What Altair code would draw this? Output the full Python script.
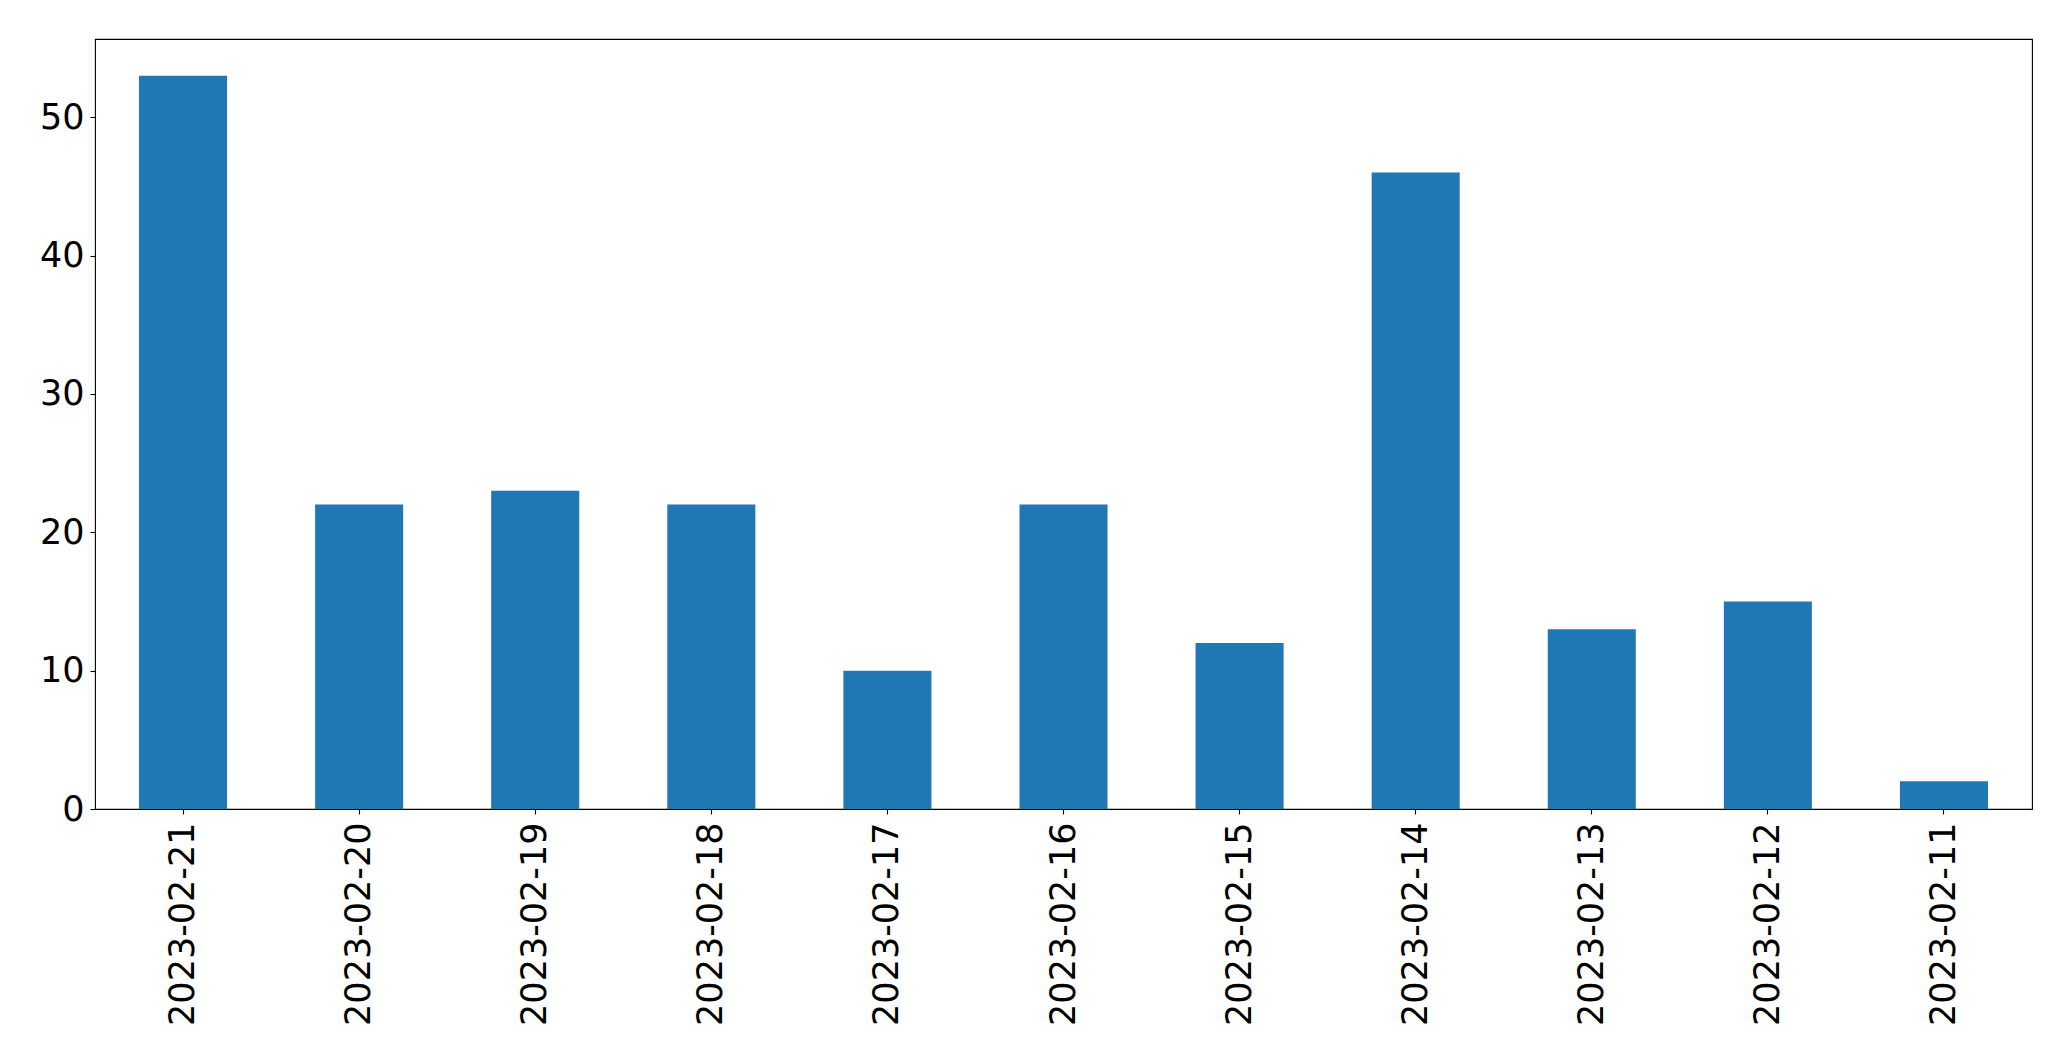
import altair as alt
import pandas as pd

dates = ["2023-02-21", "2023-02-20", "2023-02-19", "2023-02-18", "2023-02-17",
         "2023-02-16", "2023-02-15", "2023-02-14", "2023-02-13", "2023-02-12",
         "2023-02-11"]
counts = [53, 22, 23, 22, 10, 22, 12, 46, 13, 15, 2]
y_ticks = [0, 10, 20, 30, 40, 50]

df = pd.DataFrame({"date": dates, "count": counts})

chart = alt.Chart(df).mark_bar(color="#1f77b4").encode(
    x=alt.X("date:N", sort=dates, title=None,
            scale=alt.Scale(paddingInner=0.5, paddingOuter=0.25),
            axis=alt.Axis(labelAngle=-90, labelFontSize=35, labelFont="DejaVu Sans",
                          labelColor="black", tickColor="black", tickSize=5,
                          tickWidth=1.1, labelPadding=8, domain=False, labelLimit=0,
                          labelBaseline="middle", labelAlign="right")),
    y=alt.Y("count:Q", title=None,
            scale=alt.Scale(domain=[0, 55.65], nice=False, zero=True),
            axis=alt.Axis(values=y_ticks, labelFontSize=35, labelFont="DejaVu Sans",
                          labelColor="black", tickColor="black", tickSize=5,
                          tickWidth=1.1, labelPadding=6, domain=False, grid=False)),
).properties(
    width=1937, height=770,
    autosize=alt.AutoSizeParams(type="none"),
    padding={"left": 87, "top": 31, "right": 31, "bottom": 244},
).configure_view(
    stroke="black", strokeWidth=1.1
)

chart.save("out.html", embed_options={"renderer": "svg", "actions": False})
